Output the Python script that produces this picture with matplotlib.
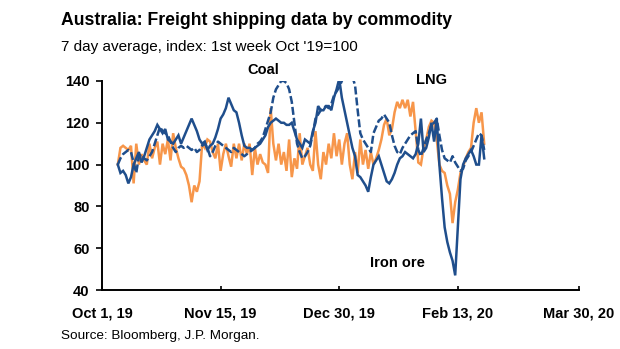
import datetime as dt

import numpy as np
import matplotlib
matplotlib.use('Agg')
import matplotlib.pyplot as plt

plt.rcParams['font.family'] = ['Liberation Sans', 'DejaVu Sans']

# 7 day averages, first value is 7 Oct 2019, one value per day
startDate = dt.date(2019, 10, 7)

ironOre = [100, 96, 97, 95, 91, 94, 100, 103, 106, 101,
           104, 108, 112, 114, 116, 119, 117, 115, 117, 112,
           111, 110, 112, 114, 110, 113, 116, 119, 122, 119,
           116, 112, 110, 111, 107, 109, 110, 113, 117, 122,
           124, 127, 132, 129, 126, 125, 120, 114, 109, 108,
           108, 107, 108, 109, 110, 112, 114, 118, 120, 121,
           122, 121, 120, 120, 119, 119, 120, 116, 112, 110,
           108, 112, 111, 110, 116, 120, 128, 126, 126, 128,
           128, 126, 132, 136, 141, 132, 126, 120, 114, 108,
           104, 95, 94, 92, 90, 87, 94, 100, 102, 104,
           100, 96, 92, 91, 93, 96, 100, 103, 104, 106,
           105, 104, 103, 105, 110, 122, 106, 108, 113, 120,
           111, 122, 100, 84, 70, 63, 58, 54, 47, 70,
           93, 100, 103, 105, 107, 104, 100, 100, 114, 103]

coal = [100, 103, 105, 106, 107, 106, 101, 96, 104, 105,
        103, 102, 104, 106, 110, 114, 118, 116, 115, 114,
        111, 108, 106, 108, 109, 108, 109, 108, 107, 108,
        106, 107, 109, 110, 108, 104, 106, 109, 111, 110,
        109, 108, 107, 106, 108, 107, 106, 105, 104, 105,
        106, 107, 108, 110, 111, 113, 117, 121, 125, 132,
        136, 138, 140, 140, 139, 136, 130, 120, 110, 106,
        103, 104, 106, 109, 115, 122, 124, 126, 127, 128,
        127, 129, 133, 135, 137, 140, 143, 145, 144, 142,
        138, 126, 115, 112, 110, 108, 106, 115, 118, 121,
        122, 124, 122, 120, 114, 109, 106, 105, 108, 110,
        112, 114, 115, 116, 107, 104, 108, 112, 115, 119,
        120, 122, 114, 107, 103, 102, 101, 104, 101, 99,
        97, 98, 102, 104, 106, 109, 112, 115, 114, 107]

lng = [100, 108, 109, 108, 107, 109, 91, 110, 100, 105,
       102, 100, 110, 103, 108, 111, 100, 110, 105, 112,
       102, 115, 108, 103, 99, 98, 95, 90, 82, 90,
       87, 92, 110, 108, 112, 111, 106, 103, 110, 97,
       105, 110, 104, 99, 110, 103, 110, 102, 110, 105,
       110, 95, 108, 100, 105, 101, 100, 96, 127, 110,
       102, 110, 100, 106, 97, 112, 94, 103, 98, 115,
       100, 104, 108, 100, 97, 116, 100, 93, 106, 100,
       110, 103, 115, 104, 112, 100, 110, 115, 100, 93,
       106, 96, 112, 100, 107, 98, 106, 100, 103, 107,
       112, 119, 122, 114, 117, 125, 130, 127, 131, 127,
       131, 123, 130, 116, 101, 100, 108, 112, 118, 121,
       120, 112, 100, 97, 96, 90, 86, 72, 82, 88,
       96, 99, 103, 106, 108, 120, 127, 120, 125, 110]

tickDates = [dt.date(2019, 10, 1), dt.date(2019, 11, 15), dt.date(2019, 12, 30),
             dt.date(2020, 2, 13), dt.date(2020, 3, 30)]
tickLabels = ['Oct 1, 19', 'Nov 15, 19', 'Dec 30, 19', 'Feb 13, 20', 'Mar 30, 20']
yTicks = [40, 60, 80, 100, 120, 140]

navy = '#1f4e8c'
orange = '#f7964a'

dates = [startDate + dt.timedelta(days=i) for i in range(len(ironOre))]

fig = plt.figure(figsize=(6.2, 3.49), dpi=100)
ax = fig.add_axes([0.1645, 0.169, 0.7695, 0.599])

ax.plot(dates, lng, color=orange, lw=1.8, solid_joinstyle='miter')
ax.plot(dates, coal, color=navy, lw=1.8, ls=(0, (3.2, 1.2)))
ax.plot(dates, ironOre, color=navy, lw=1.8, solid_joinstyle='miter')

ax.set_ylim(40, 140)
ax.set_xlim(tickDates[0], tickDates[-1])
ax.set_yticks(yTicks)
ax.set_xticks(tickDates)
ax.set_xticklabels(tickLabels)

for side in ['top', 'right']:
    ax.spines[side].set_visible(False)
for side in ['left', 'bottom']:
    ax.spines[side].set_linewidth(1.4)
    ax.spines[side].set_color('black')

ax.tick_params(axis='y', direction='out', length=4, width=1.2, pad=5,
               labelsize=10.5)
ax.tick_params(axis='x', direction='in', length=3, width=1.2, pad=12,
               labelsize=10.5)
for lab in ax.get_xticklabels() + ax.get_yticklabels():
    lab.set_fontweight('bold')

ax.text(dt.date(2019, 12, 1), 142, 'Coal', fontsize=10.5, fontweight='bold',
        ha='center', va='bottom', clip_on=False)
ax.text(dt.date(2020, 2, 3), 137, 'LNG', fontsize=10.5, fontweight='bold',
        ha='center', va='bottom')
ax.text(dt.date(2020, 1, 21), 53, 'Iron ore', fontsize=10.5, fontweight='bold',
        ha='center', va='center')

fig.text(0.098, 0.942, 'Australia: Freight shipping data by commodity',
         fontsize=12.7, fontweight='bold', ha='left', va='center')
fig.text(0.098, 0.866, "7 day average, index: 1st week Oct '19=100",
         fontsize=11, ha='left', va='center')
fig.text(0.098, 0.037, 'Source: Bloomberg, J.P. Morgan.',
         fontsize=9.7, ha='left', va='center')

plt.savefig('out.png', dpi=100)
plt.close()
